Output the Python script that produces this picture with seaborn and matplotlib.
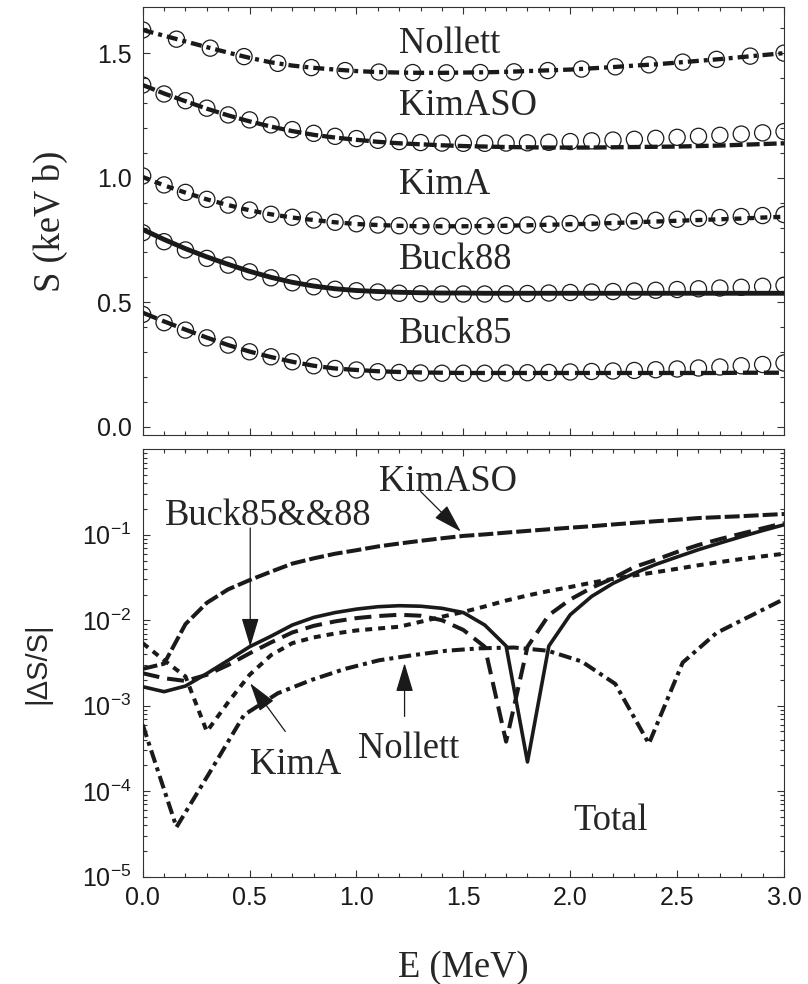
import matplotlib
matplotlib.use("Agg")
import matplotlib.pyplot as plt
import seaborn as sns
from matplotlib.ticker import MultipleLocator, LogLocator, NullFormatter, FixedLocator

# ---------------- data ----------------
E = [0.0, 0.1, 0.2, 0.3, 0.4, 0.5, 0.6, 0.7, 0.8, 0.9, 1.0, 1.1, 1.2, 1.3, 1.4, 1.5,
     1.6, 1.7, 1.8, 1.9, 2.0, 2.1, 2.2, 2.3, 2.4, 2.5, 2.6, 2.7, 2.8, 2.9, 3.0]
E_nollett = [0.0, 0.158, 0.316, 0.474, 0.632, 0.789, 0.947, 1.105, 1.263, 1.421,
             1.579, 1.737, 1.895, 2.053, 2.211, 2.368, 2.526, 2.684, 2.842, 3.0]

# top panel: S-factor (keV b), circles = points, lines = fits
S_nollett_pts = [1.593, 1.556, 1.520, 1.486, 1.459, 1.442, 1.430, 1.424, 1.422, 1.421,
                 1.422, 1.425, 1.430, 1.436, 1.445, 1.453, 1.464, 1.475, 1.488, 1.500]
S_nollett_line = [1.593, 1.570, 1.547, 1.524, 1.502, 1.481, 1.463, 1.450, 1.441, 1.434,
                  1.428, 1.424, 1.422, 1.421, 1.421, 1.422, 1.423, 1.425, 1.428, 1.431,
                  1.434, 1.439, 1.444, 1.450, 1.455, 1.462, 1.469, 1.476, 1.484, 1.492, 1.500]
S_kimaso_pts = [1.372, 1.336, 1.309, 1.279, 1.252, 1.232, 1.212, 1.193, 1.178, 1.166,
                1.157, 1.150, 1.145, 1.141, 1.139, 1.138, 1.138, 1.139, 1.140, 1.142,
                1.145, 1.148, 1.151, 1.154, 1.158, 1.162, 1.166, 1.170, 1.175, 1.180, 1.185]
S_kimaso_line = [1.372, 1.338, 1.307, 1.277, 1.250, 1.226, 1.205, 1.187, 1.172, 1.161,
                 1.152, 1.144, 1.138, 1.134, 1.130, 1.127, 1.125, 1.123, 1.122, 1.121,
                 1.121, 1.121, 1.122, 1.123, 1.124, 1.125, 1.127, 1.129, 1.132, 1.135, 1.138]
S_kima_pts = [1.007, 0.971, 0.941, 0.913, 0.890, 0.870, 0.853, 0.841, 0.830, 0.821,
              0.815, 0.810, 0.807, 0.806, 0.805, 0.805, 0.806, 0.808, 0.810, 0.813,
              0.816, 0.819, 0.822, 0.826, 0.829, 0.833, 0.837, 0.840, 0.844, 0.848, 0.852]
S_kima_line = [1.003, 0.969, 0.940, 0.913, 0.890, 0.869, 0.853, 0.840, 0.830, 0.821,
               0.814, 0.810, 0.807, 0.805, 0.805, 0.805, 0.806, 0.807, 0.809, 0.811,
               0.813, 0.815, 0.818, 0.821, 0.824, 0.827, 0.830, 0.833, 0.836, 0.840, 0.843]
S_buck88_pts = [0.779, 0.743, 0.710, 0.676, 0.649, 0.622, 0.598, 0.578, 0.562, 0.552,
                0.546, 0.541, 0.536, 0.534, 0.533, 0.533, 0.533, 0.534, 0.535, 0.537,
                0.539, 0.541, 0.543, 0.545, 0.548, 0.551, 0.554, 0.557, 0.560, 0.564, 0.568]
S_buck88_line = [0.792, 0.752, 0.715, 0.682, 0.652, 0.624, 0.600, 0.580, 0.565, 0.554,
                 0.547, 0.543, 0.540, 0.538, 0.537, 0.537, 0.536, 0.536, 0.536, 0.536,
                 0.536, 0.536, 0.536, 0.536, 0.536, 0.536, 0.536, 0.536, 0.536, 0.536, 0.536]
S_buck85_pts = [0.451, 0.418, 0.388, 0.357, 0.328, 0.301, 0.281, 0.261, 0.245, 0.234,
                0.228, 0.221, 0.218, 0.216, 0.215, 0.215, 0.215, 0.216, 0.217, 0.218,
                0.220, 0.222, 0.224, 0.226, 0.229, 0.232, 0.236, 0.240, 0.245, 0.250, 0.256]
S_buck85_line = [0.458, 0.423, 0.390, 0.358, 0.328, 0.302, 0.280, 0.261, 0.245, 0.234,
                 0.228, 0.223, 0.220, 0.218, 0.217, 0.216, 0.216, 0.216, 0.216, 0.216,
                 0.216, 0.216, 0.216, 0.216, 0.216, 0.216, 0.216, 0.216, 0.217, 0.217, 0.217]

# bottom panel: |dS/S|
D_kimaso = [2.7e-3, 3.1e-3, 9.0e-3, 1.6e-2, 2.3e-2, 2.95e-2, 3.7e-2, 4.6e-2, 5.3e-2, 6.0e-2,
            6.6e-2, 7.3e-2, 7.9e-2, 8.5e-2, 9.1e-2, 9.7e-2, 1.01e-1, 1.06e-1, 1.11e-1, 1.16e-1,
            1.21e-1, 1.26e-1, 1.32e-1, 1.38e-1, 1.44e-1, 1.50e-1, 1.57e-1, 1.61e-1, 1.65e-1,
            1.70e-1, 1.75e-1]
D_buck88 = [1.67e-3, 1.46e-3, 1.7e-3, 2.38e-3, 3.4e-3, 4.9e-3, 6.5e-3, 8.8e-3, 1.08e-2, 1.23e-2,
            1.35e-2, 1.44e-2, 1.48e-2, 1.46e-2, 1.38e-2, 1.23e-2, 8.8e-3, 5.0e-3, 2.2e-4, 5.0e-3,
            1.16e-2, 1.9e-2, 2.7e-2, 3.55e-2, 4.5e-2, 5.5e-2, 6.7e-2, 8.0e-2, 9.5e-2, 1.12e-1,
            1.31e-1]
D_buck85 = [2.4e-3, 2.1e-3, 1.95e-3, 2.3e-3, 3.0e-3, 4.1e-3, 5.5e-3, 7.2e-3, 8.6e-3, 9.7e-3,
            1.06e-2, 1.12e-2, 1.16e-2, 1.13e-2, 1.0e-2, 7.7e-3, 4.9e-3, 3.8e-4, 4.9e-3, 1.15e-2,
            1.75e-2, 2.4e-2, 3.1e-2, 4.2e-2, 5.1e-2, 6.3e-2, 7.6e-2, 8.9e-2, 1.03e-1, 1.19e-1,
            1.37e-1]
D_kima = [5.4e-3, 3.4e-3, 2.2e-3, 5.0e-4, 1.1e-3, 2.3e-3, 3.9e-3, 5.4e-3, 6.3e-3, 7.0e-3,
          7.6e-3, 8.0e-3, 8.4e-3, 9.6e-3, 1.1e-2, 1.25e-2, 1.45e-2, 1.7e-2, 1.95e-2, 2.2e-2,
          2.45e-2, 2.75e-2, 3.05e-2, 3.35e-2, 3.65e-2, 4.0e-2, 4.4e-2, 4.8e-2, 5.2e-2, 5.6e-2,
          6.0e-2]
D_nollett = [6.0e-4, 3.8e-5, 1.7e-4, 7.8e-4, 1.4e-3, 2.0e-3, 2.7e-3, 3.4e-3, 3.9e-3, 4.4e-3,
             4.7e-3, 4.8e-3, 4.4e-3, 3.3e-3, 1.8e-3, 3.6e-4, 3.2e-3, 7.1e-3, 1.12e-2, 1.77e-2]

top_labels = ["Nollett", "KimASO", "KimA", "Buck88", "Buck85"]
xtick_labels = ["0.0", "0.5", "1.0", "1.5", "2.0", "2.5", "3.0"]
ytick_top_labels = ["0.0", "0.5", "1.0", "1.5"]
ytick_bot_labels = [r"$\mathdefault{10^{-5}}$", r"$\mathdefault{10^{-4}}$",
                    r"$\mathdefault{10^{-3}}$", r"$\mathdefault{10^{-2}}$",
                    r"$\mathdefault{10^{-1}}$"]

# ---------------- style ----------------
sns.set_theme(style="ticks")
plt.rcParams.update({
    "font.family": ["Liberation Sans", "DejaVu Sans"],
    "mathtext.fontset": "custom",
    "mathtext.rm": "Liberation Sans",
    "mathtext.it": "Liberation Sans:italic",
    "mathtext.bf": "Liberation Sans:bold",
    "lines.scale_dashes": False,
    "axes.linewidth": 0.8,
    "axes.edgecolor": "0.2",
    "figure.facecolor": "white",
    "axes.facecolor": "white",
})
SERIF = ["Liberation Serif", "DejaVu Serif"]
FS_TXT = 26.3

W, H = 808, 984
fig = plt.figure(figsize=(W / 100, H / 100), dpi=100)


def rect(l, t, r, b):
    return [l / W, 1 - b / H, (r - l) / W, (b - t) / H]


ax1 = fig.add_axes(rect(142.7, 7.3, 784, 435))
ax2 = fig.add_axes(rect(142.7, 449.3, 784, 876.7))
ax2.set_yscale("log")


def pts(ax, x, y):
    sns.scatterplot(x=x, y=y, ax=ax, color="k", marker="o", s=135, legend=False, zorder=2)
    c = ax.collections[-1]
    c.set_facecolor("none")
    c.set_edgecolor("k")
    c.set_linewidth(0.9)


def line(ax, x, y, dashes, lw):
    sns.lineplot(x=x, y=y, ax=ax, color="k", lw=lw, zorder=3, estimator=None, sort=False)
    ln = ax.lines[-1]
    if dashes is not None:
        ln.set_dashes([d * 0.72 for d in dashes])


# top panel
pts(ax1, E_nollett, S_nollett_pts)
pts(ax1, E, S_kimaso_pts)
pts(ax1, E, S_kima_pts)
pts(ax1, E, S_buck88_pts)
pts(ax1, E, S_buck85_pts)
LW = 3.1
line(ax1, E, S_nollett_line, [11, 5, 4, 5], LW)
line(ax1, E, S_kimaso_line, [13, 4], LW)
line(ax1, E, S_kima_line, [7, 6], LW)
line(ax1, E, S_buck88_line, None, 3.5)
line(ax1, E, S_buck85_line, [15, 6], LW)

for lab, yb in zip(top_labels, [1.502, 1.252, 0.933, 0.632, 0.335]):
    ax1.text(1.2, yb, lab, ha="left", va="baseline", family=SERIF, fontsize=FS_TXT)

ax1.set_xlim(0, 3.0)
ax1.set_ylim(-0.033, 1.684)
ax1.xaxis.set_major_locator(FixedLocator([0, 0.5, 1.0, 1.5, 2.0, 2.5, 3.0]))
ax1.xaxis.set_minor_locator(MultipleLocator(0.1))
ax1.set_xticklabels([])
ax1.set_yticks([0, 0.5, 1.0, 1.5])
ax1.set_yticklabels(ytick_top_labels)
ax1.yaxis.set_minor_locator(MultipleLocator(0.1))

# bottom panel
LW2 = 2.9
line(ax2, E, D_kimaso, [15, 4], LW2)
line(ax2, E, D_buck88, None, 2.6)
line(ax2, E, D_buck85, [17, 8], LW2)
line(ax2, E, D_kima, [7, 6], LW2)
line(ax2, E_nollett, D_nollett, [13, 5, 4, 5], LW2)

ax2.set_xlim(0, 3.0)
ax2.set_ylim(1e-5, 1.0)
ax2.set_xticks([0, 0.5, 1.0, 1.5, 2.0, 2.5, 3.0])
ax2.set_xticklabels(xtick_labels)
ax2.xaxis.set_minor_locator(MultipleLocator(0.1))
ax2.set_yticks([1e-5, 1e-4, 1e-3, 1e-2, 1e-1])
ax2.set_yticklabels(ytick_bot_labels)
ax2.yaxis.set_minor_locator(LogLocator(base=10, subs=[2, 3, 4, 5, 6, 7, 8, 9], numticks=20))
ax2.yaxis.set_minor_formatter(NullFormatter())

txt = dict(ha="center", va="baseline", family=SERIF, fontsize=FS_TXT)
ax2.text(0.585, 0.131, "Buck85&&88", **txt)
ax2.text(0.714, 1.59e-4, "KimA", **txt)
ax2.text(1.244, 2.45e-4, "Nollett", **txt)
ax2.text(1.429, 0.327, "KimASO", **txt)
ax2.text(2.19, 3.5e-5, "Total", **txt)

arr = dict(arrowstyle="-|>,head_length=0.9,head_width=0.27", mutation_scale=20,
           lw=0.9, color="k", shrinkA=0, shrinkB=0)
ax2.annotate("", xy=(0.503, 4.9e-3), xytext=(0.503, 0.12), arrowprops=arr)
ax2.annotate("", xy=(0.503, 1.83e-3), xytext=(0.667, 5.0e-4), arrowprops=arr)
ax2.annotate("", xy=(1.225, 3.15e-3), xytext=(1.225, 7.5e-4), arrowprops=arr)
ax2.annotate("", xy=(1.488, 0.109), xytext=(1.30, 0.321), arrowprops=arr)

for ax in (ax1, ax2):
    ax.set_xlabel("")
    ax.set_ylabel("")
    ax.tick_params(which="both", direction="in", top=True, right=True,
                   labelsize=18, width=0.8, color="0.2", labelcolor="k")
    ax.tick_params(which="major", length=5)
    ax.tick_params(which="minor", length=3)
    ax.tick_params(axis="y", pad=8)
    ax.tick_params(axis="x", pad=7)
    for s in ax.spines.values():
        s.set_visible(True)
        s.set_linewidth(0.8)
        s.set_color("0.2")

fig.text(463.3 / W, 1 - 976.7 / H, "E (MeV)", ha="center", va="baseline",
         family=SERIF, fontsize=FS_TXT)
fig.text(50.5 / W, 1 - 221 / H, "S (keV b)", rotation=90, ha="center", va="center",
         family=SERIF, fontsize=FS_TXT)
fig.text(37.5 / W, 1 - 663 / H, "|ΔS/S|", rotation=90, ha="center", va="center",
         fontsize=21)

fig.savefig("out.png", dpi=100)
